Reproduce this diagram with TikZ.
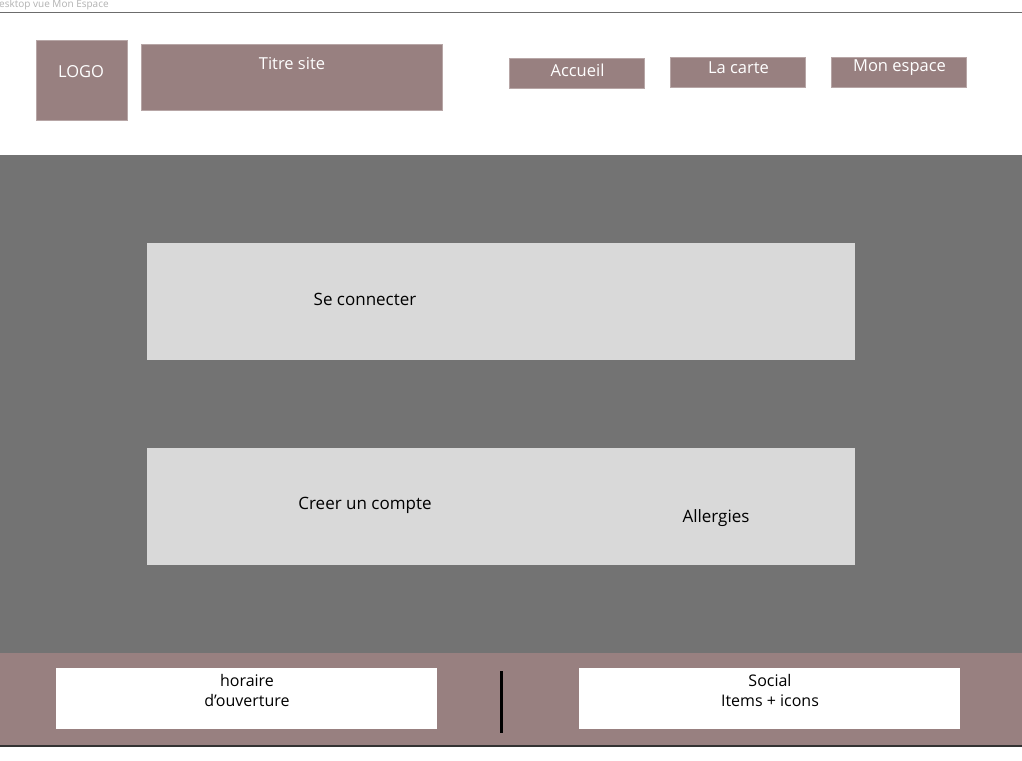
\documentclass[tikz,border=0pt]{standalone}
\usepackage{fontspec}
\setmainfont{Open Sans}
\definecolor{rosegris}{HTML}{988080}
\definecolor{fondgris}{HTML}{737373}
\definecolor{panelgris}{HTML}{D9D9D9}
\begin{document}
\begin{tikzpicture}
[x=1pt,y=-1pt,
  navbox/.style={shape=rectangle,fill=rosegris,draw=rosegris!70!white,inner sep=0pt},%
  navtext/.style={text=white,font=\fontsize{16.5}{19}\selectfont,inner sep=0pt},%
  panelbox/.style={shape=rectangle,fill=panelgris,inner sep=0pt,
    minimum width=708,minimum height=117},%
  paneltext/.style={text=black,font=\fontsize{17}{19}\selectfont,inner sep=0pt},%
  footbox/.style={shape=rectangle,fill=white,inner sep=0pt,
    minimum width=381,minimum height=61},%
  foottext/.style={text=black,font=\fontsize{16}{20}\selectfont,inner sep=0pt,align=center}]
\useasboundingbox (0,0) rectangle (1022,760);
%%
%% page background
\fill[white] (0,0) rectangle (1022,760);
\fill[fondgris] (0,155) rectangle (1022,653);
\fill[rosegris] (0,653) rectangle (1022,746);
\draw[gray!85!black,thick] (0,12) -- (1022,12);
\draw[black!80,line width=1.5pt] (0,746) -- (1022,746);
\node (frame) at (-1,5) [anchor=west,inner sep=0pt,text=black!30,
  font=\fontsize{10}{11}\selectfont] {esktop vue Mon Espace};
%%
%% header
\node (logo) at (81.5,80) [navbox,minimum width=91,minimum height=80] {};
\node (logotext) at (81,72) [navtext] {LOGO};
\node (titre) at (291.5,77) [navbox,minimum width=301,minimum height=66] {};
\node (titretext) at (292,64) [navtext] {Titre site};
\foreach \nodename/\x/\y/\ty/\label in {accueil/576.5/73/70/Accueil,
  carte/737.5/72/68/La carte, espace/898.5/72/68/Mon espace} {
  \node (\nodename) at (\x,\y) [navbox,minimum width=135,minimum height=30] {};
  \node (\nodename text) at (\x+1,\ty) [navtext] {\label};
}
%%
%% panels
\foreach \nodename/\y/\ty/\label in {connecter/301.5/299/Se connecter,
  compte/506.5/505/Creer un compte} {
  \node (\nodename) at (501,\y) [panelbox] {};
  \node (\nodename text) at (365,\ty) [paneltext] {\label};
}
\node (allergies) at (716,518) [paneltext] {Allergies};
%%
%% footer
\node (horaire) at (246.5,698.5) [footbox] {};
\node (horairetext) at (247,690) [foottext] {horaire\\d’ouverture};
\node (social) at (769.5,698.5) [footbox] {};
\node (socialtext) at (770,690) [foottext] {Social\\Items + icons};
\coordinate (septop) at (501.5,671);
\coordinate (sepbot) at (501.5,733);
\draw[line width=3pt] (septop) -- (sepbot);
\end{tikzpicture}
\end{document}
